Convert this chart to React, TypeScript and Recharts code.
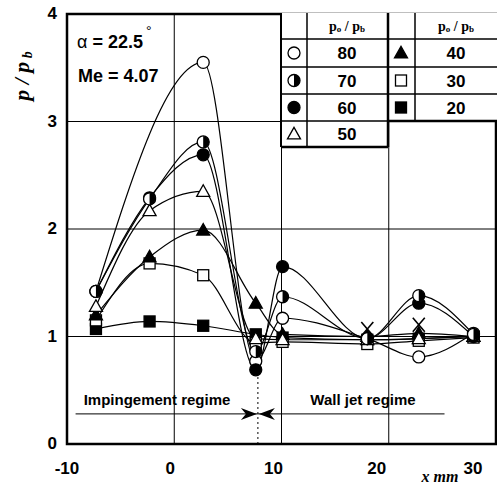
import { ComposedChart, Line, XAxis, YAxis, ReferenceLine, ReferenceArea, ReferenceDot } from 'recharts'

// x positions of the pressure taps (mm)
const X_POS = [-7.3, -2.3, 2.7, 7.6, 10.1, 18.0, 22.8, 27.9]

// p / pb for each po / pb
const P80 = [1.42, null, 3.55, 0.77, 1.17, 0.98, 0.81, 1.03]
const P70 = [1.42, 2.28, 2.81, 0.86, 1.37, 0.98, 1.38, 1.02]
const P60 = [1.42, 2.29, 2.69, 0.69, 1.65, 0.98, 1.31, 1.0]
const P50 = [1.28, 2.17, 2.35, 0.98, 0.97, 0.97, 0.98, 1.0]
const P40 = [1.2, 1.74, 1.99, 1.31, 1.02, 1.0, 1.03, 1.0]
const P30 = [1.15, 1.68, 1.57, 0.94, 0.95, 0.93, 0.96, 0.99]
const P20 = [1.07, 1.14, 1.1, 1.02, 0.99, 0.97, 0.98, 1.0]
const CROSS = [null, null, null, null, null, 1.07, 1.11, null]

const X_TICKS = [-10, 0, 10, 20, 30]
const Y_TICKS = [0, 1, 2, 3, 4]
const GRID_X = [0, 10, 20]
const GRID_Y = [1, 2, 3]

const SANS = '"Liberation Sans", Arial, sans-serif'
const SERIF = '"Liberation Serif", "Times New Roman", serif'

type Kind = 'oc' | 'hc' | 'fc' | 'ot' | 'ft' | 'os' | 'fs' | 'x'

const SERIES: { name: string; values: (number | null)[]; kind: Kind }[] = [
  { name: '20', values: P20, kind: 'fs' },
  { name: '30', values: P30, kind: 'os' },
  { name: '40', values: P40, kind: 'ft' },
  { name: '50', values: P50, kind: 'ot' },
  { name: '80', values: P80, kind: 'oc' },
  { name: '60', values: P60, kind: 'fc' },
  { name: '70', values: P70, kind: 'hc' },
]

const toPoints = (values: (number | null)[]) => X_POS.map((x, i) => ({ x, y: values[i] }))

function Marker({ kind, cx, cy }: { kind: Kind; cx: number; cy: number }) {
  const r = 6
  const sw = 1.3
  switch (kind) {
    case 'oc':
      return <circle cx={cx} cy={cy} r={r} fill="#fff" stroke="#000" strokeWidth={sw} />
    case 'fc':
      return <circle cx={cx} cy={cy} r={r} fill="#000" stroke="#000" strokeWidth={sw} />
    case 'hc':
      return (
        <g>
          <circle cx={cx} cy={cy} r={r} fill="#fff" stroke="#000" strokeWidth={sw} />
          <path d={`M${cx},${cy - r} A${r},${r} 0 0 1 ${cx},${cy + r} Z`} fill="#000" />
        </g>
      )
    case 'ot':
    case 'ft': {
      const h = 11
      const w = 6.5
      const d = `M${cx},${cy - h * 0.6} L${cx + w},${cy + h * 0.45} L${cx - w},${cy + h * 0.45} Z`
      return <path d={d} fill={kind === 'ft' ? '#000' : '#fff'} stroke="#000" strokeWidth={sw} strokeLinejoin="miter" />
    }
    case 'os':
    case 'fs':
      return <rect x={cx - 5.5} y={cy - 5.5} width={11} height={11} fill={kind === 'fs' ? '#000' : '#fff'} stroke="#000" strokeWidth={sw} />
    case 'x':
      return (
        <g stroke="#000" strokeWidth={1.6}>
          <line x1={cx - 6} y1={cy - 7} x2={cx + 6} y2={cy + 7} />
          <line x1={cx + 6} y1={cy - 7} x2={cx - 6} y2={cy + 7} />
        </g>
      )
  }
  return null
}

const dotFor = (kind: Kind) => (p: any) => {
  if (p.cy == null || p.value == null || Number.isNaN(p.cy)) return <g key={p.index} />
  return (
    <g key={p.index}>
      <Marker kind={kind} cx={p.cx} cy={p.cy} />
    </g>
  )
}

const XTick = ({ x, y, payload }: any) => (
  <text
    x={x - (payload.value + 10) * 0.4}
    y={y + 22}
    textAnchor="middle"
    fontFamily={SANS}
    fontWeight="bold"
    fontSize={17}
    fill="#000"
  >
    {payload.value}
  </text>
)

const YTick = ({ x, y, payload }: any) => (
  <text x={x - 2} y={y + 5} textAnchor="end" fontFamily={SANS} fontWeight="bold" fontSize={17} fill="#000">
    {payload.value}
  </text>
)

const Arrowheads = ({ cx, cy }: any) => (
  <g fill="#000">
    <path d={`M${cx - 1},${cy} L${cx - 17},${cy - 6} L${cx - 12},${cy} L${cx - 17},${cy + 6} Z`} />
    <path d={`M${cx + 1},${cy} L${cx + 17},${cy - 6} L${cx + 12},${cy} L${cx + 17},${cy + 6} Z`} />
  </g>
)

function LegendTable() {
  const rows = [13, 39, 67, 94, 121, 147]
  const left = [
    { kind: 'oc' as Kind, label: '80' },
    { kind: 'hc' as Kind, label: '70' },
    { kind: 'fc' as Kind, label: '60' },
    { kind: 'ot' as Kind, label: '50' },
  ]
  const right = [
    { kind: 'ft' as Kind, label: '40' },
    { kind: 'os' as Kind, label: '30' },
    { kind: 'fs' as Kind, label: '20' },
  ]
  const header = (cx: number) => (
    <text x={cx} y={31} textAnchor="middle" fontFamily={SERIF} fontWeight="bold" fontSize={14} fill="#000">
      p<tspan fontSize={9} dy={1}>o</tspan>
      <tspan dy={-1}> / p</tspan>
      <tspan fontSize={9} dy={1}>b</tspan>
    </text>
  )
  return (
    <g>
      <rect x={281} y={13} width={107} height={134} fill="#fff" />
      <rect x={388} y={13} width={109} height={108} fill="#fff" />
      {header(347)}
      {header(456)}
      {left.map((r, i) => {
        const cy = (rows[i + 1] + rows[i + 2]) / 2
        return (
          <g key={r.label}>
            <Marker kind={r.kind} cx={294} cy={cy} />
            <text x={347} y={cy + 6} textAnchor="middle" fontFamily={SANS} fontWeight="bold" fontSize={17} fill="#000">
              {r.label}
            </text>
          </g>
        )
      })}
      {right.map((r, i) => {
        const cy = (rows[i + 1] + rows[i + 2]) / 2
        return (
          <g key={r.label}>
            <Marker kind={r.kind} cx={401} cy={cy} />
            <text x={456} y={cy + 6} textAnchor="middle" fontFamily={SANS} fontWeight="bold" fontSize={17} fill="#000">
              {r.label}
            </text>
          </g>
        )
      })}
      <g stroke="#000" strokeWidth={1.5} fill="none">
        {rows.slice(1, 5).map((y) => (
          <line key={'l' + y} x1={281} y1={y} x2={388} y2={y} />
        ))}
        <line x1={281} y1={147} x2={388} y2={147} strokeWidth={2.5} />
        {rows.slice(1, 4).map((y) => (
          <line key={'r' + y} x1={388} y1={y} x2={497} y2={y} />
        ))}
        <line x1={388} y1={121} x2={497} y2={121} strokeWidth={2.5} />
        <line x1={281} y1={13} x2={281} y2={147} strokeWidth={2} />
        <line x1={307} y1={13} x2={307} y2={147} />
        <line x1={388} y1={13} x2={388} y2={147} strokeWidth={2.5} />
        <line x1={415} y1={13} x2={415} y2={121} />
      </g>
    </g>
  )
}

export default function App() {
  return (
    <div style={{ position: 'absolute', left: 0, top: 0, width: 497, height: 485, background: '#fff' }}>
      <ComposedChart width={497} height={485} margin={{ top: 14, right: 1, left: 0, bottom: 0 }}>
        <XAxis
          dataKey="x"
          type="number"
          domain={[-10, 30]}
          ticks={X_TICKS}
          axisLine={false}
          tickLine={false}
          height={41}
          tick={<XTick />}
          allowDuplicatedCategory={false}
        />
        <YAxis type="number" domain={[0, 4]} ticks={Y_TICKS} axisLine={false} tickLine={false} width={67} tick={<YTick />} />
        {GRID_X.map((v) => (
          <ReferenceLine key={'gx' + v} x={v} stroke="#000" strokeWidth={1} />
        ))}
        {GRID_Y.map((v) => (
          <ReferenceLine key={'gy' + v} y={v} stroke="#000" strokeWidth={1} />
        ))}
        <ReferenceLine segment={[{ x: 7.8, y: 0 }, { x: 7.8, y: 0.64 }]} stroke="#000" strokeDasharray="2 3" />
        <ReferenceLine segment={[{ x: -9.2, y: 0.28 }, { x: 7.8, y: 0.28 }]} stroke="#000" />
        <ReferenceLine segment={[{ x: 7.8, y: 0.28 }, { x: 25.2, y: 0.28 }]} stroke="#000" />
        <ReferenceDot x={7.8} y={0.28} r={0} shape={<Arrowheads />} />
        {SERIES.map((s) => (
          <Line
            key={s.name}
            data={toPoints(s.values)}
            dataKey="y"
            type="monotone"
            stroke="#000"
            strokeWidth={1.2}
            connectNulls
            dot={dotFor(s.kind)}
            activeDot={false}
            isAnimationActive={false}
          />
        ))}
        <Line
          data={toPoints(CROSS)}
          dataKey="y"
          stroke="none"
          strokeWidth={0}
          dot={dotFor('x')}
          activeDot={false}
          isAnimationActive={false}
        />
        <ReferenceArea x1={-10} x2={30} y1={0} y2={4} fill="none" stroke="#000" strokeWidth={2.5} ifOverflow="visible" />
      </ComposedChart>
      <svg width={497} height={485} style={{ position: 'absolute', left: 0, top: 0, pointerEvents: 'none' }}>
        <LegendTable />
        <text x={77} y={48} fontFamily={SANS} fontSize={18} fill="#000">
          α<tspan fontWeight="bold"> = 22.5</tspan>
          <tspan fontSize={14} dy={-12} dx={3}>°</tspan>
        </text>
        <text x={78} y={82} fontFamily={SANS} fontWeight="bold" fontSize={18} fill="#000">
          Me = 4.07
        </text>
        <text x={157} y={405} textAnchor="middle" fontFamily={SANS} fontWeight="bold" fontSize={15} fill="#000">
          Impingement regime
        </text>
        <text x={363} y={405} textAnchor="middle" fontFamily={SANS} fontWeight="bold" fontSize={15} fill="#000">
          Wall jet regime
        </text>
        <text x={440} y={482} textAnchor="middle" fontFamily={SERIF} fontStyle="italic" fontWeight="bold" fontSize={16} fill="#000">
          x mm
        </text>
        <text
          transform="translate(29,76) rotate(-90)"
          textAnchor="middle"
          fontFamily={SERIF}
          fontStyle="italic"
          fontWeight="bold"
          fontSize={22}
          fill="#000"
        >
          p / p<tspan fontSize={14} dy={3}> b</tspan>
        </text>
      </svg>
    </div>
  )
}
